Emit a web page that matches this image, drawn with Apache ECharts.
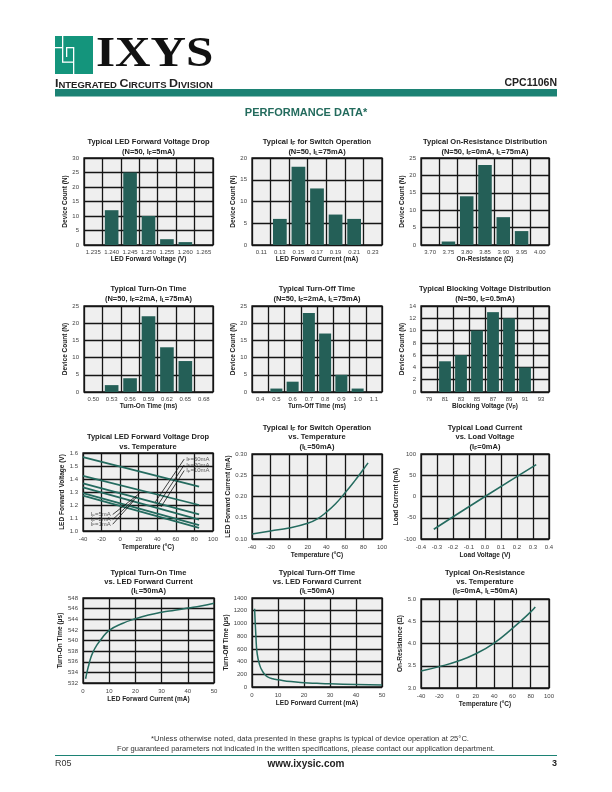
<!DOCTYPE html>
<html><head><meta charset="utf-8">
<script src="https://cdn.jsdelivr.net/npm/echarts@6/dist/echarts.min.js"></script>
<style>html,body{margin:0;padding:0;background:#fff}#c{width:612px;height:792px}</style>
</head><body><div id="c"></div>
<script>
// ---------- data ----------
const fvCats = ['1.235','1.240','1.245','1.250','1.255','1.260','1.265'];
const fvCounts = [0,12,25,10,2,1,0];
const ifCats = ['0.11','0.13','0.15','0.17','0.19','0.21','0.23'];
const ifCounts = [0,6,18,13,7,6,0];
const ronCats = ['3.70','3.75','3.80','3.85','3.90','3.95','4.00'];
const ronCounts = [0,1,14,23,8,4,0];
const tonCats = ['0.50','0.53','0.56','0.59','0.62','0.65','0.68'];
const tonCounts = [0,2,4,22,13,9,0];
const toffCats = ['0.4','0.5','0.6','0.7','0.8','0.9','1.0','1.1'];
const toffCounts = [0,1,3,23,17,5,1,0];
const bvCats = ['79','81','83','85','87','89','91','93'];
const bvCounts = [0,5,6,10,13,12,4,0];

const vfTemps = [-40, 85];
const vf50mA = [1.568, 1.342];
const vf20mA = [1.424, 1.200];
const vf10mA = [1.367, 1.127];
const vf5mA  = [1.336, 1.088];
const vf2mA  = [1.292, 1.045];
const vf1mA  = [1.272, 1.024];
const vfLabels = ['I{s|F}=50mA','I{s|F}=20mA','I{s|F}=10mA','I{s|F}=5mA','I{s|F}=2mA','I{s|F}=1mA'];

const ifTemps = [-40,-20,0,20,30,40,50,60,70,80,85];
const ifSwitch = [0.112,0.119,0.126,0.137,0.147,0.163,0.183,0.208,0.235,0.264,0.279];

const loadV = [-0.32, 0, 0.32];
const loadI = [-77, 0, 75];

const onCurr = [1,1.5,2,3,4,5,7,10,15,20,25,30,35,40,45,50];
const onTime = [532.8,534,535,536.8,538,538.9,540.3,541.9,543.2,544.1,544.8,545.3,545.7,546.1,546.5,547];

const offCurr = [1,1.5,2,3,4,5,6,8,10,15,20,25,30,40,50];
const offTime = [1230,800,520,340,250,195,160,130,115,85,68,58,50,40,30];

const ronTemps = [-40,-20,0,20,40,60,80,85];
const ronVals = [3.38,3.48,3.60,3.77,4.01,4.34,4.71,4.82];

// ---------- styles ----------
const FONT = '"Liberation Sans", Arial, Helvetica, sans-serif';
const BAR = '#245f57';
const LINE = '#246b5f';
const GC = '#151515';
const GW = 1.3;
const subRich = {s:{fontSize:4.8, fontWeight:'bold', fontFamily:FONT, color:'#222', verticalAlign:'bottom'}};

const grids = [
 {left:84, top:158, width:129, height:87},
 {left:252, top:158, width:130, height:87},
 {left:421, top:158, width:128, height:87},
 {left:84, top:306, width:129, height:86},
 {left:252, top:306, width:130, height:86},
 {left:421, top:306, width:128, height:86},
 {left:83, top:453, width:130, height:78},
 {left:252, top:454, width:130, height:85},
 {left:421, top:454, width:128, height:85},
 {left:83, top:598, width:131, height:85},
 {left:252, top:598, width:130, height:89},
 {left:421, top:599, width:128, height:89}
].map(g => Object.assign({show:true, backgroundColor:'#efefef', borderColor:GC, borderWidth:GW}, g));

const lab = {fontSize:6, color:'#444', fontFamily:FONT};
const nameTS = {fontSize:6.5, fontWeight:'bold', color:'#222', fontFamily:FONT, rich:subRich};

function catX(i, cats, name){
  return {type:'category', gridIndex:i, data:cats, boundaryGap:true,
    axisLine:{show:false}, axisTick:{show:false},
    splitLine:{show:true, interval:0, lineStyle:{color:GC, width:GW}},
    axisLabel:Object.assign({interval:0, margin:4}, lab),
    name, nameLocation:'middle', nameGap:11, nameTextStyle:nameTS};
}
function valX(i, min, max, interval, name, dec){
  return {type:'value', gridIndex:i, min, max, interval,
    axisLine:{show:false}, axisTick:{show:false},
    splitLine:{show:true, lineStyle:{color:GC, width:GW}},
    axisLabel:Object.assign({margin:5, formatter: v => dec==null ? String(v) : v.toFixed(dec)}, lab),
    name, nameLocation:'middle', nameGap:13, nameTextStyle:nameTS};
}
function valY(i, min, max, interval, name, dec, gap){
  return {type:'value', gridIndex:i, min, max, interval,
    axisLine:{show:false}, axisTick:{show:false},
    splitLine:{show:true, lineStyle:{color:GC, width:GW}},
    axisLabel:Object.assign({margin:5, formatter: v => dec==null ? String(v) : v.toFixed(dec)}, lab),
    name, nameLocation:'middle', nameRotate:90, nameGap:gap||14, nameTextStyle:nameTS};
}

const xAxes = [
  catX(0, fvCats, 'LED Forward Voltage (V)'),
  catX(1, ifCats, 'LED Forward Current (mA)'),
  catX(2, ronCats, 'On-Resistance (Ω)'),
  catX(3, tonCats, 'Turn-On Time (ms)'),
  catX(4, toffCats, 'Turn-Off Time (ms)'),
  catX(5, bvCats, 'Blocking Voltage (V{s|P})'),
  valX(6, -40, 100, 20, 'Temperature (°C)'),
  valX(7, -40, 100, 20, 'Temperature (°C)'),
  valX(8, -0.4, 0.4, 0.1, 'Load Voltage (V)', 1),
  valX(9, 0, 50, 10, 'LED Forward Current (mA)'),
  valX(10, 0, 50, 10, 'LED Forward Current (mA)'),
  valX(11, -40, 100, 20, 'Temperature (°C)')
];
const yAxes = [
  valY(0, 0, 30, 5, 'Device Count (N)'),
  valY(1, 0, 20, 5, 'Device Count (N)'),
  valY(2, 0, 25, 5, 'Device Count (N)'),
  valY(3, 0, 25, 5, 'Device Count (N)'),
  valY(4, 0, 25, 5, 'Device Count (N)'),
  valY(5, 0, 14, 2, 'Device Count (N)'),
  valY(6, 1.0, 1.6, 0.1, 'LED Forward Voltage (V)', 1),
  valY(7, 0.10, 0.30, 0.05, 'LED Forward Current (mA)', 2, 18),
  valY(8, -100, 100, 50, 'Load Current (mA)', null, 17),
  valY(9, 532, 548, 2, 'Turn-On Time (μs)'),
  valY(10, 0, 1400, 200, 'Turn-Off Time (μs)', null, 18),
  valY(11, 3.0, 5.0, 0.5, 'On-Resistance (Ω)', 1)
];

function bars(i, vals){
  return {type:'bar', xAxisIndex:i, yAxisIndex:i, data:vals, barCategoryGap:'26%',
    itemStyle:{color:BAR}, silent:true};
}
function line(i, xs, ys, w){
  return {type:'line', xAxisIndex:i, yAxisIndex:i, data:xs.map((x,k)=>[x, ys[k]]),
    smooth:true, showSymbol:false, symbol:'none', silent:true,
    lineStyle:{color:LINE, width:w||1.5}};
}

const series = [
  bars(0, fvCounts), bars(1, ifCounts), bars(2, ronCounts),
  bars(3, tonCounts), bars(4, toffCounts), bars(5, bvCounts),
  line(6, vfTemps, vf50mA, 1.8), line(6, vfTemps, vf20mA, 1.8), line(6, vfTemps, vf10mA, 1.8),
  line(6, vfTemps, vf5mA, 1.8), line(6, vfTemps, vf2mA, 1.8), line(6, vfTemps, vf1mA, 1.8),
  line(7, ifTemps, ifSwitch), line(8, loadV, loadI, 1.6),
  line(9, onCurr, onTime), line(10, offCurr, offTime), line(11, ronTemps, ronVals)
];

// leader lines + labels for the VF vs temperature chart (annotation, in data coords)
const leaderLines = [
  [[69, 1.553],[38, 1.225]],
  [[69, 1.508],[41, 1.205]],
  [[69, 1.465],[44, 1.185]],
  [[-8, 1.127],[21, 1.290]],
  [[-8, 1.088],[18, 1.262]],
  [[-8, 1.052],[15, 1.235]]
];
const leaderLabels = [
  [70, 1.553, 'right'], [70, 1.508, 'right'], [70, 1.465, 'right'],
  [-9, 1.127, 'left'], [-9, 1.088, 'left'], [-9, 1.052, 'left']
];
series.push({type:'line', xAxisIndex:6, yAxisIndex:6, data:[], silent:true,
  markLine:{silent:true, symbol:['none','none'], label:{show:false},
    lineStyle:{color:'#111', width:0.8, type:'solid'},
    data: leaderLines.map(p => [{coord:p[0]},{coord:p[1]}])}});
series.push({type:'scatter', xAxisIndex:6, yAxisIndex:6, symbolSize:0, silent:true,
  data: leaderLabels.map((p,k)=>({value:[p[0],p[1]], label:{show:true, position:p[2], distance:1,
    formatter: vfLabels[k], fontSize:6, color:'#333', fontFamily:FONT,
    rich:{s:{fontSize:4.3, color:'#333', verticalAlign:'bottom', fontFamily:FONT}}}}))});

// ---------- titles & page furniture ----------
const titles = [
  [148.5, [142,152], ['Typical LED Forward Voltage Drop','(N=50, I{s|F}=5mA)']],
  [317, [142,152], ['Typical I{s|F} for Switch Operation','(N=50, I{s|L}=75mA)']],
  [485, [142,152], ['Typical On-Resistance Distribution','(N=50, I{s|F}=0mA, I{s|L}=75mA)']],
  [148.5, [289,299], ['Typical Turn-On Time','(N=50, I{s|F}=2mA, I{s|L}=75mA)']],
  [317, [289,299], ['Typical Turn-Off Time','(N=50, I{s|F}=2mA, I{s|L}=75mA)']],
  [485, [289,299], ['Typical Blocking Voltage Distribution','(N=50, I{s|F}=0.5mA)']],
  [148, [437,447], ['Typical LED Forward Voltage Drop','vs. Temperature']],
  [317, [428,437,447], ['Typical I{s|F} for Switch Operation','vs. Temperature','(I{s|L}=50mA)']],
  [485, [428,437,447], ['Typical Load Current','vs. Load Voltage','(I{s|F}=0mA)']],
  [148.5, [573,582,591], ['Typical Turn-On Time','vs. LED Forward Current','(I{s|L}=50mA)']],
  [317, [573,582,591], ['Typical Turn-Off Time','vs. LED Forward Current','(I{s|L}=50mA)']],
  [485, [573,582,591], ['Typical On-Resistance','vs. Temperature','(I{s|F}=0mA, I{s|L}=50mA)']]
];
const graphic = [];
titles.forEach(t => {
  t[2].forEach((txt,k) => {
    graphic.push({type:'text', x:t[0], y:t[1][k], silent:true, style:{text:txt, fill:'#222',
      font:'bold 7.5px ' + FONT, align:'center', verticalAlign:'middle',
      rich:{s:{fontSize:5, fontWeight:'bold', fontFamily:FONT, fill:'#222', verticalAlign:'bottom'}}}});
  });
});

const TEAL = '#1c8274';
const LOGO = '#14957c';
// logo
graphic.push(
  {type:'rect', shape:{x:55, y:36, width:38, height:38}, style:{fill:LOGO}, silent:true},
  {type:'rect', shape:{x:62, y:36, width:1.3, height:26}, style:{fill:'#fff'}, silent:true},
  {type:'rect', shape:{x:55, y:47, width:7, height:1.3}, style:{fill:'#fff'}, silent:true},
  {type:'rect', shape:{x:62, y:61.5, width:12, height:1.3}, style:{fill:'#fff'}, silent:true},
  {type:'rect', shape:{x:73, y:47, width:1.3, height:27}, style:{fill:'#fff'}, silent:true},
  {type:'rect', shape:{x:66, y:47, width:7, height:1.3}, style:{fill:'#fff'}, silent:true},
  {type:'rect', shape:{x:66, y:47, width:1.3, height:10}, style:{fill:'#fff'}, silent:true},
  {type:'text', x:96, y:55, silent:true, scaleX:1.17, style:{text:'IXYS', fill:'#111', font:'bold 42px "Liberation Serif", "Times New Roman", serif', align:'left', verticalAlign:'middle'}},
  {type:'text', x:55, y:84, silent:true, scaleX:1.08, style:{text:'{b|I}{s|NTEGRATED }{b|C}{s|IRCUITS }{b|D}{s|IVISION}', align:'left', verticalAlign:'middle',
    rich:{b:{fontSize:11.5, fontWeight:'bold', fontFamily:FONT, fill:'#222', verticalAlign:'bottom'}, s:{fontSize:8.8, fontWeight:'bold', fontFamily:FONT, fill:'#222', verticalAlign:'bottom'}}}},
  {type:'text', x:557, y:83, silent:true, style:{text:'CPC1106N', fill:'#222', font:'bold 10.5px ' + FONT, align:'right', verticalAlign:'middle'}},
  {type:'rect', shape:{x:55, y:89, width:502, height:7.5}, style:{fill:TEAL}, silent:true},
  {type:'text', x:306, y:113, silent:true, style:{text:'PERFORMANCE DATA*', fill:'#236b5d', font:'bold 11px ' + FONT, align:'center', verticalAlign:'middle'}},
  {type:'text', x:310, y:739, silent:true, style:{text:'*Unless otherwise noted, data presented in these graphs is typical of device operation at 25°C.', fill:'#333', font:'7.6px ' + FONT, align:'center', verticalAlign:'middle'}},
  {type:'text', x:306, y:749, silent:true, style:{text:'For guaranteed parameters not indicated in the written specifications, please contact our application department.', fill:'#333', font:'7.6px ' + FONT, align:'center', verticalAlign:'middle'}},
  {type:'rect', shape:{x:55, y:755, width:502, height:1}, style:{fill:TEAL}, silent:true},
  {type:'text', x:55, y:764, silent:true, style:{text:'R05', fill:'#333', font:'9px ' + FONT, align:'left', verticalAlign:'middle'}},
  {type:'text', x:306, y:764, silent:true, style:{text:'www.ixysic.com', fill:'#222', font:'bold 10px ' + FONT, align:'center', verticalAlign:'middle'}},
  {type:'text', x:557, y:764, silent:true, style:{text:'3', fill:'#222', font:'bold 9px ' + FONT, align:'right', verticalAlign:'middle'}}
);

const chart = echarts.init(document.getElementById('c'), null, {renderer:'canvas'});
chart.setOption({
  animation:false,
  backgroundColor:'#ffffff',
  textStyle:{fontFamily:FONT},
  grid:grids, xAxis:xAxes, yAxis:yAxes, series, graphic
});
</script></body></html>
